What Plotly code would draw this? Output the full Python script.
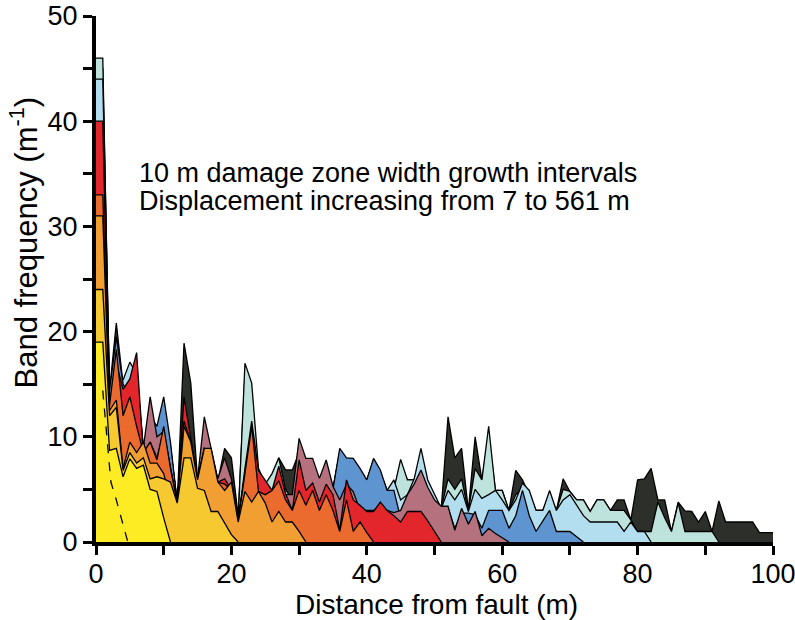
import plotly.graph_objects as go

# Distance from fault (m), 1 m sampling
distance_m = list(range(0, 101))

# Band frequency (m^-1) per damage-zone width stage (front -> back)
freq_w10 = [19, 19, 8.7, 8.9, 6.2, 7.9, 7.0, 7.3, 5.0, 4.8, 2.3, 0]
freq_w20 = [24, 24, 12.0, 12.8, 6.8, 8.5, 7.5, 8.0, 6.0, 6.2, 6.0, 5.7, 3.7, 8.0, 8.0, 5.1, 4.9, 2.9, 2.9, 1.8, 0.7, 0]
freq_w30 = [31, 31, 12.5, 13.5, 7.0, 9.5, 8.5, 9.5, 7.5, 7.5, 6.5, 4.0, 3.7, 11.0, 9.5, 5.9, 8.9, 8.9, 5.7, 4.9,
            5.7, 1.9, 4.8, 3.8, 4.8, 3.7, 1.9, 2.9, 1.9, 1.9, 1.0, 0]
freq_w40 = [33, 33, 13, 18.3, 12, 13.8, 11, 8.5, 9.5, 7.8, 11.0, 7.0, 3.7, 11.5, 9.5, 5.9, 8.9, 8.5, 5.7, 5.5,
            5.0, 2.0, 6.5, 11.0, 4.8, 4.5, 4.9, 5.8, 4.0, 3.0, 4.9, 3.5, 4.9, 3.0, 4.5, 3.0, 1.0, 4.0, 1.0, 1.9,
            0.9, 0]
freq_w50 = [40, 40, 13, 17, 14.5, 15.5, 18.0, 8.4, 9.5, 8.0, 10.5, 7.0, 3.7, 13.8, 10, 5.9, 8.9, 8.5, 5.7, 6.0,
            5.0, 2.0, 7.0, 11.5, 6.8, 5.8, 4.9, 7.2, 4.6, 3.0, 7.8, 4.9, 5.6, 3.8, 5.5, 4.5, 1.1, 5.9, 4.0, 3.5,
            2.9, 2.9, 3.8, 3.0, 2.5, 1.9, 2.9, 2.9, 2.9, 2.0, 1.0, 0]
freq_w60 = [38, 38, 13, 17, 14, 15, 16, 9.0, 13.8, 10.0, 10.5, 7.0, 3.7, 12.0, 9.5, 6.0, 11.9, 8.9, 6.0, 8.0,
            6.0, 2.0, 6.5, 10.5, 6.5, 5.0, 4.5, 6.5, 4.5, 4.5, 9.85, 7.95, 7.95, 6.05, 7.8, 5.3, 4.0, 5.5, 4.8, 3.0,
            3.0, 3.0, 3.5, 3.0, 2.8, 3.0, 4.5, 5.5, 6.85, 5.2, 4.0, 3.4, 3.4, 1.1, 3.2, 1.7, 2.9, 0.6, 1.3, 0.8,
            0.4, 0]
freq_w70 = [38, 38, 14.4, 19.5, 15, 14, 15, 8.5, 12, 11.0, 13.8, 9.5, 3.7, 12, 9.0, 5.9, 9.0, 8.5, 5.8, 7.5,
            5.8, 2.0, 6.5, 10.5, 6.5, 5.0, 4.5, 6.5, 4.5, 4.0, 8.5, 7.5, 7.5, 5.8, 7.5, 5.0, 8.9, 8.0, 7.95, 7.0,
            5.9, 7.95, 6.85, 4.9, 4.9, 2.25, 3.4, 3.5, 4.0, 4.0, 3.5, 3.2, 3.2, 1.3, 2.75, 2.75, 2.6, 1.3, 3.0, 3.0,
            3.0, 1.3, 2.5, 4.9, 2.5, 1.0, 2.0, 3.0, 1.0, 1.0, 1.0, 0.5, 0]
freq_w80 = [44, 44, 14, 17, 15.4, 17.1, 16, 8.5, 11.5, 10.5, 13, 9, 3.7, 11.5, 9, 5.8, 9, 8.5, 5.8, 7.5,
            5.8, 2.0, 6.5, 10.5, 6.5, 5.0, 4.5, 6.5, 4.5, 4.0, 8.5, 7.5, 7.5, 5.8, 7.5, 5.0, 8.5, 7.8, 7.8, 6.8,
            5.8, 7.8, 6.5, 4.9, 5.9, 4.0, 4.5, 6.0, 8.9, 5.9, 4.5, 3.2, 4.9, 4.0, 5.0, 2.9, 5.0, 4.15, 4.5, 4.9,
            4.0, 3.0, 4.0, 5.6, 4.9, 3.0, 3.0, 4.9, 3.0, 4.0, 4.5, 3.5, 2.5, 1.9, 1.9, 1.9, 1.9, 1.9, 1.0, 1.9,
            1.0, 1.0, 0]
freq_w90 = [46, 46, 14, 17, 15, 16.5, 16, 8.5, 11.5, 10.5, 13, 9, 3.7, 11.5, 9, 5.8, 9, 8.5, 5.8, 7.5,
            5.8, 2.0, 17.0, 15.1, 7.0, 5.5, 6.5, 8.0, 5.0, 4.0, 8.5, 7.5, 7.5, 5.8, 7.5, 5.0, 8.5, 7.8, 7.8, 6.8,
            5.8, 7.8, 6.5, 4.9, 5.0, 7.85, 5.9, 5.9, 8.0, 5.5, 4.0, 3.2, 6.0, 5.0, 6.0, 2.9, 7.0, 5.9, 11.0, 4.9,
            4.9, 3.0, 4.5, 5.0, 4.5, 3.0, 3.0, 4.5, 3.0, 5.0, 4.8, 4.0, 4.0, 2.9, 4.0, 4.0, 3.0, 3.0, 3.0, 2.1,
            1.0, 1.0, 1.0, 3.8, 2.3, 1.0, 3.7, 1.0, 1.0, 1.0, 1.0, 1.0, 0]
freq_w100 = [45, 45, 14.4, 20.8, 15, 16, 16, 8.5, 11.5, 10.5, 13, 9, 3.7, 18.9, 15.1, 5.9, 9, 8.5, 5.8, 8.9,
             8.0, 2.5, 16, 14, 6.5, 5.0, 6.0, 8.0, 6.85, 6.85, 8.5, 7.5, 7.5, 5.8, 7.5, 5.0, 8.5, 7.8, 7.8, 6.8,
             5.8, 7.8, 6.5, 4.9, 5.0, 7.5, 5.9, 5.9, 8.0, 5.5, 4.0, 3.2, 11.9, 8.0, 8.9, 3.0, 10.0, 5.9, 10.0, 4.9,
             4.9, 3.0, 6.8, 5.9, 4.5, 3.0, 3.0, 4.5, 3.0, 6.0, 4.8, 4.0, 4.0, 2.9, 4.0, 4.0, 3.0, 4.0, 4.0, 2.1,
             5.9, 6.0, 7.0, 4.0, 4.0, 1.0, 3.8, 2.95, 2.9, 1.9, 2.9, 1.0, 3.9, 1.9, 1.9, 1.9, 1.9, 1.9, 0.9, 0.9,
             0.9]

# Initial (smallest) stage, dashed profile
dashed_x = [1.0, 1.9, 2.2, 3.0, 4.7]
dashed_y = [14.4, 8.1, 5.7, 4.0, 0]

stage_colors = ["#FDEB24", "#F6C931", "#F19E33", "#EB6B2E", "#E2262B",
                "#B6717F", "#5E95D0", "#B3DEF0", "#BDE3DC", "#2D2F2B"]
stages = [freq_w10, freq_w20, freq_w30, freq_w40, freq_w50,
          freq_w60, freq_w70, freq_w80, freq_w90, freq_w100]

x_tick_vals = [0, 20, 40, 60, 80, 100]
x_minor_vals = [10, 30, 50, 70, 90]
y_tick_vals = [0, 10, 20, 30, 40, 50]
y_minor_vals = [5, 15, 25, 35, 45]

FONT = "Liberation Sans, Arial, Helvetica, sans-serif"

fig = go.Figure()
# draw widest stage first (back), narrowest last (front)
for vals, col in reversed(list(zip(stages, stage_colors))):
    fig.add_trace(go.Scatter(
        x=distance_m[:len(vals)], y=vals, mode="lines",
        fill="tozeroy", fillcolor=col,
        line=dict(color="black", width=1.3),
        hoverinfo="skip", showlegend=False))

fig.add_trace(go.Scatter(
    x=dashed_x, y=dashed_y, mode="lines",
    line=dict(color="black", width=1.3, dash="dash"),
    hoverinfo="skip", showlegend=False))

axis_common = dict(
    showline=True, linewidth=4, linecolor="black",
    ticks="outside", ticklen=9, tickwidth=3, tickcolor="black",
    showgrid=False, zeroline=False, automargin=False,
    ticklabeloverflow="allow",
    tickfont=dict(family=FONT, size=27, color="black"),
)

fig.update_xaxes(range=[0, 100], tickvals=x_tick_vals, ticklabelstandoff=-4,
                 minor=dict(tickvals=x_minor_vals, ticks="outside",
                            ticklen=9, tickwidth=3, tickcolor="black"),
                 **axis_common)
fig.update_yaxes(range=[0, 50], tickvals=y_tick_vals,
                 minor=dict(tickvals=y_minor_vals, ticks="outside",
                            ticklen=9, tickwidth=3, tickcolor="black"),
                 **axis_common)

annotations = [
    dict(text="10 m damage zone width growth intervals", x=6.0, y=35.1,
         xref="x", yref="y", xanchor="left", yanchor="middle", showarrow=False,
         font=dict(family=FONT, size=27, color="black")),
    dict(text="Displacement increasing from 7 to 561 m", x=6.0, y=32.4,
         xref="x", yref="y", xanchor="left", yanchor="middle", showarrow=False,
         font=dict(family=FONT, size=27, color="black")),
    dict(text="Distance from fault (m)", x=0.503, y=-0.118,
         xref="paper", yref="paper", xanchor="center", yanchor="middle",
         showarrow=False, font=dict(family=FONT, size=28, color="black")),
    dict(text="Band frequency (m<sup>-1</sup>)", x=-0.106, y=0.57,
         xref="paper", yref="paper", xanchor="center", yanchor="middle",
         textangle=-90, showarrow=False,
         font=dict(family=FONT, size=31, color="black")),
]

fig.update_layout(
    width=795, height=620,
    margin=dict(l=96, r=22, t=16, b=78, autoexpand=False),
    plot_bgcolor="white", paper_bgcolor="white",
    annotations=annotations,
    showlegend=False,
)

fig.write_html("out.html")
